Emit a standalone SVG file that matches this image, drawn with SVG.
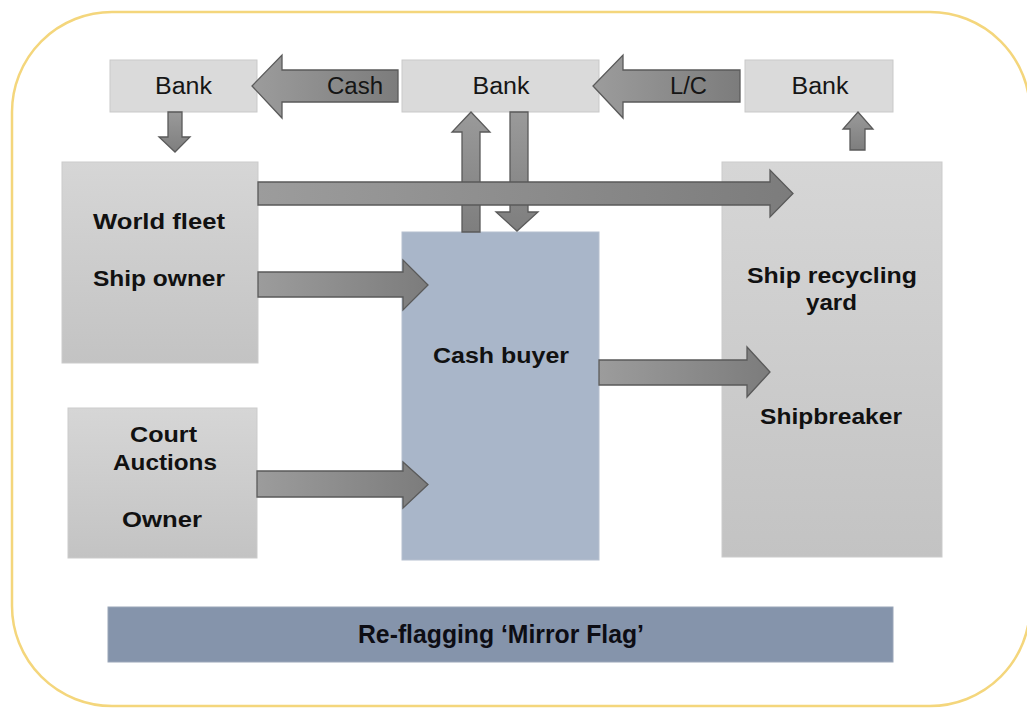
<svg xmlns="http://www.w3.org/2000/svg" width="1027" height="708" viewBox="0 0 1027 708">
  <defs>
    <linearGradient id="boxGrad" x1="0" y1="0" x2="0" y2="1">
      <stop offset="0" stop-color="#d6d6d6"/>
      <stop offset="1" stop-color="#c3c3c3"/>
    </linearGradient>
    <linearGradient id="arrowH" x1="0" y1="0" x2="1" y2="0">
      <stop offset="0" stop-color="#9c9c9c"/>
      <stop offset="1" stop-color="#7c7c7c"/>
    </linearGradient>
    <linearGradient id="arrowV" x1="0" y1="0" x2="0" y2="1">
      <stop offset="0" stop-color="#9a9a9a"/>
      <stop offset="1" stop-color="#7e7e7e"/>
    </linearGradient>
    <style>
      .frame { fill: #ffffff; stroke: #f4d67c; stroke-width: 2.5; }
      .bank { fill: #dadada; stroke: #c9c9c9; stroke-width: 1; }
      .party { fill: url(#boxGrad); stroke: #cbcbcb; stroke-width: 1; }
      .buyer { fill: #a9b6c9; stroke: #b6c0cf; stroke-width: 1; }
      .flag { fill: #8594ab; stroke: #9aa6b8; stroke-width: 1; }
      .arrH { fill: url(#arrowH); stroke: #5a5a5a; stroke-width: 1.3; stroke-linejoin: miter; }
      .arrV { fill: url(#arrowV); stroke: #5a5a5a; stroke-width: 1.3; stroke-linejoin: miter; }
      .lbl { font-family: "Liberation Sans", Arial, sans-serif; font-size: 23px; fill: #151515; text-anchor: middle; }
      .bold { font-family: "Liberation Sans", Arial, sans-serif; font-size: 22px; font-weight: bold; fill: #111; text-anchor: middle; }
      .flagtxt { font-family: "Liberation Sans", Arial, sans-serif; font-size: 25px; font-weight: bold; fill: #0d0d14; text-anchor: middle; }
    </style>
  </defs>

  <!-- outer frame -->
  <rect class="frame" x="12" y="12" width="1018" height="694" rx="100" ry="100"/>

  <!-- parties -->
  <g id="world-fleet">
    <rect class="party" x="62" y="162" width="196" height="201"/>
    <text class="bold" x="159" y="229" textLength="132" lengthAdjust="spacingAndGlyphs">World fleet</text>
    <text class="bold" x="159" y="286" textLength="132" lengthAdjust="spacingAndGlyphs">Ship owner</text>
  </g>

  <g id="court-auctions">
    <rect class="party" x="68" y="408" width="189" height="150"/>
    <text class="bold" x="163.5" y="442" textLength="67" lengthAdjust="spacingAndGlyphs">Court</text>
    <text class="bold" x="165" y="470" textLength="104" lengthAdjust="spacingAndGlyphs">Auctions</text>
    <text class="bold" x="162" y="527" textLength="80" lengthAdjust="spacingAndGlyphs">Owner</text>
  </g>

  <g id="cash-buyer">
    <rect class="buyer" x="402" y="232" width="197" height="328"/>
    <text class="bold" x="501" y="363" textLength="136" lengthAdjust="spacingAndGlyphs">Cash buyer</text>
  </g>

  <g id="ship-recycling-yard">
    <rect class="party" x="722" y="162" width="220" height="395"/>
    <text class="bold" x="832" y="283" textLength="170" lengthAdjust="spacingAndGlyphs">Ship recycling</text>
    <text class="bold" x="831.5" y="310" textLength="51" lengthAdjust="spacingAndGlyphs">yard</text>
    <text class="bold" x="831" y="424" textLength="142" lengthAdjust="spacingAndGlyphs">Shipbreaker</text>
  </g>

  <g id="bank-owner">
    <rect class="bank" x="110" y="60" width="147" height="52"/>
    <text class="lbl" x="183.5" y="94" textLength="57" lengthAdjust="spacingAndGlyphs">Bank</text>
  </g>

  <g id="bank-buyer">
    <rect class="bank" x="402" y="60" width="197" height="52"/>
    <text class="lbl" x="501" y="94" textLength="57" lengthAdjust="spacingAndGlyphs">Bank</text>
  </g>

  <g id="bank-yard">
    <rect class="bank" x="745" y="60" width="148" height="52"/>
    <text class="lbl" x="820" y="94" textLength="57" lengthAdjust="spacingAndGlyphs">Bank</text>
  </g>

  <g id="re-flagging">
    <rect class="flag" x="108" y="607" width="785" height="55"/>
    <text class="flagtxt" x="501" y="643" textLength="286" lengthAdjust="spacingAndGlyphs">Re-flagging ‘Mirror Flag’</text>
  </g>

  <!-- connectors -->
  <g id="connectors">
    <!-- bank of owner: payment down to owner -->
    <path class="arrV" d="M168,112 H182 V137 H190 L175,152 L159,137 H168 Z"/>
    <!-- cash buyer up to its bank -->
    <path class="arrV" d="M462,232 V132 H452 L471,112 L490,132 H480 V232 Z"/>
    <!-- bank down to cash buyer -->
    <path class="arrV" d="M510,112 H528 V212 H538 L517,231 L496,212 H510 Z"/>
    <!-- yard up to its bank -->
    <path class="arrV" d="M850,150 V129 H843 L858,112 L873,129 H865 V150 Z"/>

    <!-- Cash: buyer's bank to owner's bank -->
    <path class="arrH" d="M398,70 V102 H282 V118 L252,86 L282,55 V70 Z"/>
    <text class="lbl" x="355" y="94" textLength="56" lengthAdjust="spacingAndGlyphs">Cash</text>

    <!-- L/C: yard's bank to buyer's bank -->
    <path class="arrH" d="M740,70 V102 H623 V118 L593,86 L623,55 V70 Z"/>
    <text class="lbl" x="688.5" y="94" textLength="37" lengthAdjust="spacingAndGlyphs">L/C</text>

    <!-- owner directly to recycling yard -->
    <path class="arrH" d="M258,182 H770 V170 L793,193.5 L770,217 V205 H258 Z"/>
    <!-- owner to cash buyer -->
    <path class="arrH" d="M258,272 H403 V260 L428,285 L403,310 V297 H258 Z"/>
    <!-- court auction owner to cash buyer -->
    <path class="arrH" d="M257,471 H403 V462 L428,484.5 L403,508 V497 H257 Z"/>
    <!-- cash buyer to shipbreaker -->
    <path class="arrH" d="M599,360 H747 V347 L770,372 L747,397 V385 H599 Z"/>
  </g>
</svg>
